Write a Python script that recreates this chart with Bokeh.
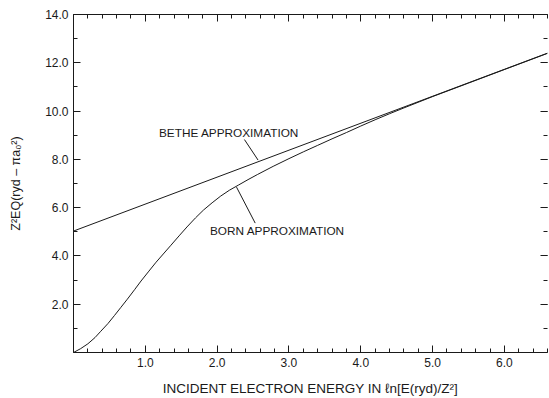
from bokeh.plotting import figure
from bokeh.models import LinearAxis, FixedTicker, Range1d
from bokeh.core.properties import value
from bokeh.embed import file_html
from bokeh.resources import INLINE

# ---- data ----
bethe_x = [0.0, 6.6]
bethe_y = [5.03, 12.40]

born_x = [0.0, 0.1, 0.2, 0.3, 0.38, 0.48, 0.57, 0.66, 0.75, 0.85, 0.94, 1.05,
          1.15, 1.25, 1.35, 1.47, 1.58, 1.70, 1.81, 1.93, 2.05, 2.17, 2.3,
          2.43, 2.56, 2.78, 3.0, 3.2, 3.4, 3.6, 3.8, 4.0, 4.2, 4.4, 4.6,
          5.0, 5.5, 6.0, 6.6]
born_y = [0.0, 0.16, 0.36, 0.62, 0.88, 1.20, 1.53, 1.87, 2.21, 2.60, 2.96, 3.37,
          3.74, 4.08, 4.42, 4.83, 5.20, 5.58, 5.90, 6.20, 6.48, 6.72, 6.94,
          7.16, 7.37, 7.71, 8.03, 8.31, 8.58, 8.85, 9.11, 9.38, 9.64, 9.89, 10.13,
          10.60, 11.16, 11.72, 12.39]

x_ticks = [1, 2, 3, 4, 5, 6]
x_tick_labels = ["1.0", "2.0", "3.0", "4.0", "5.0", "6.0"]
y_ticks = [2, 4, 6, 8, 10, 12, 14]
y_tick_labels = ["2.0", "4.0", "6.0", "8.0", "10.0", "12.0", "14.0"]
x_minor = [i / 5 for i in range(0, 34)]
y_minor = list(range(0, 15))

labels_text = ["BETHE APPROXIMATION", "BORN APPROXIMATION"]

# ---- annotation placement ----
label_x = [1.19, 1.90]
label_y = [9.11, 5.03]
ptr_x0 = [2.38, 2.53]
ptr_y0 = [8.82, 5.36]
ptr_x1 = [2.57, 2.27]
ptr_y1 = [7.97, 6.85]

INK = "#1a1a1a"
FONT = "Liberation Sans"

p = figure(width=549, height=398, x_range=Range1d(0, 6.6), y_range=Range1d(0, 14),
           output_backend="svg", toolbar_location=None,
           min_border_left=73, min_border_right=2, min_border_top=14, min_border_bottom=46,
           x_axis_label="INCIDENT ELECTRON ENERGY IN ℓn[E(ryd)/Z²]",
           y_axis_label="Z²EQ(ryd – πa₀²)")
p.grid.visible = False
p.outline_line_color = None
p.background_fill_color = "white"
p.border_fill_color = "white"

def style(ax, ticks, minor, overrides, show_labels=True, line=True):
    ax.ticker = FixedTicker(ticks=ticks, minor_ticks=minor)
    ax.major_label_overrides = overrides
    ax.major_tick_in = 7
    ax.major_tick_out = 0
    ax.minor_tick_in = 4
    ax.minor_tick_out = 0
    ax.major_tick_line_color = INK
    ax.minor_tick_line_color = INK
    ax.axis_line_color = INK if line else None
    ax.major_label_text_font = FONT
    ax.major_label_text_font_size = "12px" if show_labels else "0px"
    ax.major_label_text_color = INK
    ax.major_label_standoff = 5 if show_labels else 0
    ax.axis_label_text_font = FONT
    ax.axis_label_text_font_style = "normal"
    ax.axis_label_text_font_size = "12.5px"
    ax.axis_label_text_color = INK

style(p.xaxis[0], x_ticks, x_minor, {t: s for t, s in zip(x_ticks, x_tick_labels)})
style(p.yaxis[0], y_ticks, y_minor, {t: s for t, s in zip(y_ticks, y_tick_labels)})
p.xaxis[0].axis_label_text_font_size = "13.5px"
p.xaxis[0].axis_label_standoff = 11
p.yaxis[0].axis_label_standoff = 19

top = LinearAxis()
style(top, x_ticks, x_minor, {}, show_labels=False)
top.major_label_overrides = {t: "" for t in x_ticks}
p.add_layout(top, "above")

right = LinearAxis()
style(right, y_ticks, y_minor, {}, show_labels=False, line=False)
right.major_label_overrides = {t: "" for t in y_ticks}
p.add_layout(right, "right")

p.line(bethe_x, bethe_y, line_color=INK, line_width=1)
p.line(born_x, born_y, line_color=INK, line_width=1)

p.segment(x0=ptr_x0, y0=ptr_y0, x1=ptr_x1, y1=ptr_y1, line_color=INK, line_width=1)
p.text(x=label_x, y=label_y, text=labels_text, text_font=value(FONT),
       text_font_size="11.8px", text_color=INK, text_align="left", text_baseline="middle")

open("out.html", "w").write(file_html(p, INLINE))
